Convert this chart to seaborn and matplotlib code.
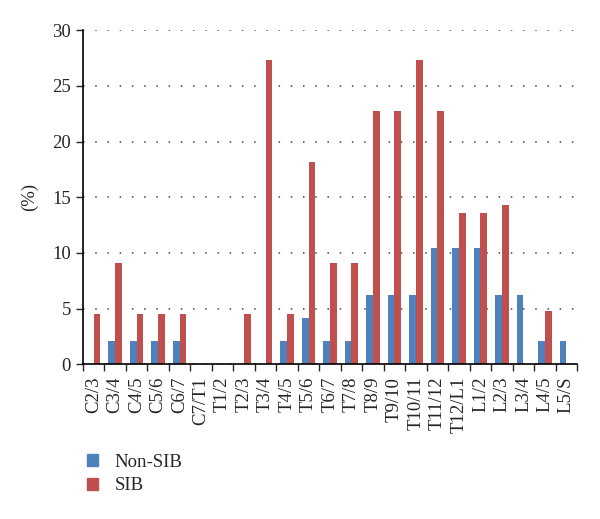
import numpy as np
import pandas as pd
import seaborn as sns
import matplotlib
import matplotlib.pyplot as plt
from matplotlib.patches import Patch
from matplotlib.ticker import FixedLocator

matplotlib.use("Agg")

levels = ['C2/3', 'C3/4', 'C4/5', 'C5/6', 'C6/7', 'C7/T1', 'T1/2', 'T2/3', 'T3/4',
          'T4/5', 'T5/6', 'T6/7', 'T7/8', 'T8/9', 'T9/10', 'T10/11', 'T11/12',
          'T12/L1', 'L1/2', 'L2/3', 'L3/4', 'L4/5', 'L5/S']
non_sib = [0, 2.1, 2.1, 2.1, 2.1, 0, 0, 0, 0, 2.1, 4.2, 2.1, 2.1, 6.25, 6.25, 6.25,
           10.4, 10.4, 10.4, 6.25, 6.25, 2.1, 2.1]
sib = [4.5, 9.1, 4.5, 4.5, 4.5, 0, 0, 4.5, 27.3, 4.5, 18.2, 9.1, 9.1, 22.7, 22.7, 27.3,
       22.7, 13.6, 13.6, 14.3, 0, 4.8, 0]
groups = ['Non-SIB', 'SIB']
colors = ['#4F81BD', '#C0504D']

df = pd.DataFrame({'Level': levels * 2,
                   'Group': ['Non-SIB'] * len(levels) + ['SIB'] * len(levels),
                   'Pct': non_sib + sib})

sns.set_style("white")
plt.rcParams['font.family'] = ['Liberation Serif', 'DejaVu Serif']

fig = plt.figure(figsize=(6, 5.19), dpi=100)
ax = fig.add_axes([0.138, 0.298, 0.824, 0.644])

sns.barplot(data=df, x='Level', y='Pct', hue='Group', hue_order=groups,
            palette=colors, width=0.62, saturation=1, linewidth=0,
            legend=False, ax=ax)

ax.set_xlim(-0.5, len(levels) - 0.5)
ax.set_ylim(0, 30)
ax.set_yticks(np.arange(0, 31, 5))
# dotted horizontal gridlines, roughly 11 px between dots
ax.yaxis.grid(True, linestyle=(0, (1, 7)), color='#444444', linewidth=1.1)
ax.set_axisbelow(True)

ax.set_xlabel('')
ax.set_ylabel('(%)', fontsize=13.5, labelpad=10)
ax.set_xticks(range(len(levels)))
ax.set_xticklabels(levels, rotation=90, fontsize=13.5)
ax.tick_params(axis='x', which='major', length=0, pad=9)
ax.xaxis.set_minor_locator(FixedLocator(np.arange(-0.5, len(levels), 1)))
ax.tick_params(axis='x', which='minor', length=5, width=1, direction='out', bottom=True)
ax.tick_params(axis='y', labelsize=13.5, length=5, width=1, direction='out', left=True)

for s in ['top', 'right']:
    ax.spines[s].set_visible(False)
for s in ['left', 'bottom']:
    ax.spines[s].set_color('black')
    ax.spines[s].set_linewidth(1.2)

handles = [Patch(color=c, label=g) for c, g in zip(colors, groups)]
fig.legend(handles=handles, loc='upper left', bbox_to_anchor=(0.132, 0.14),
           frameon=False, fontsize=13.5, handlelength=0.6, handleheight=0.6,
           handletextpad=0.9, labelspacing=0.35, borderaxespad=0)

fig.savefig('out.png', dpi=100)
